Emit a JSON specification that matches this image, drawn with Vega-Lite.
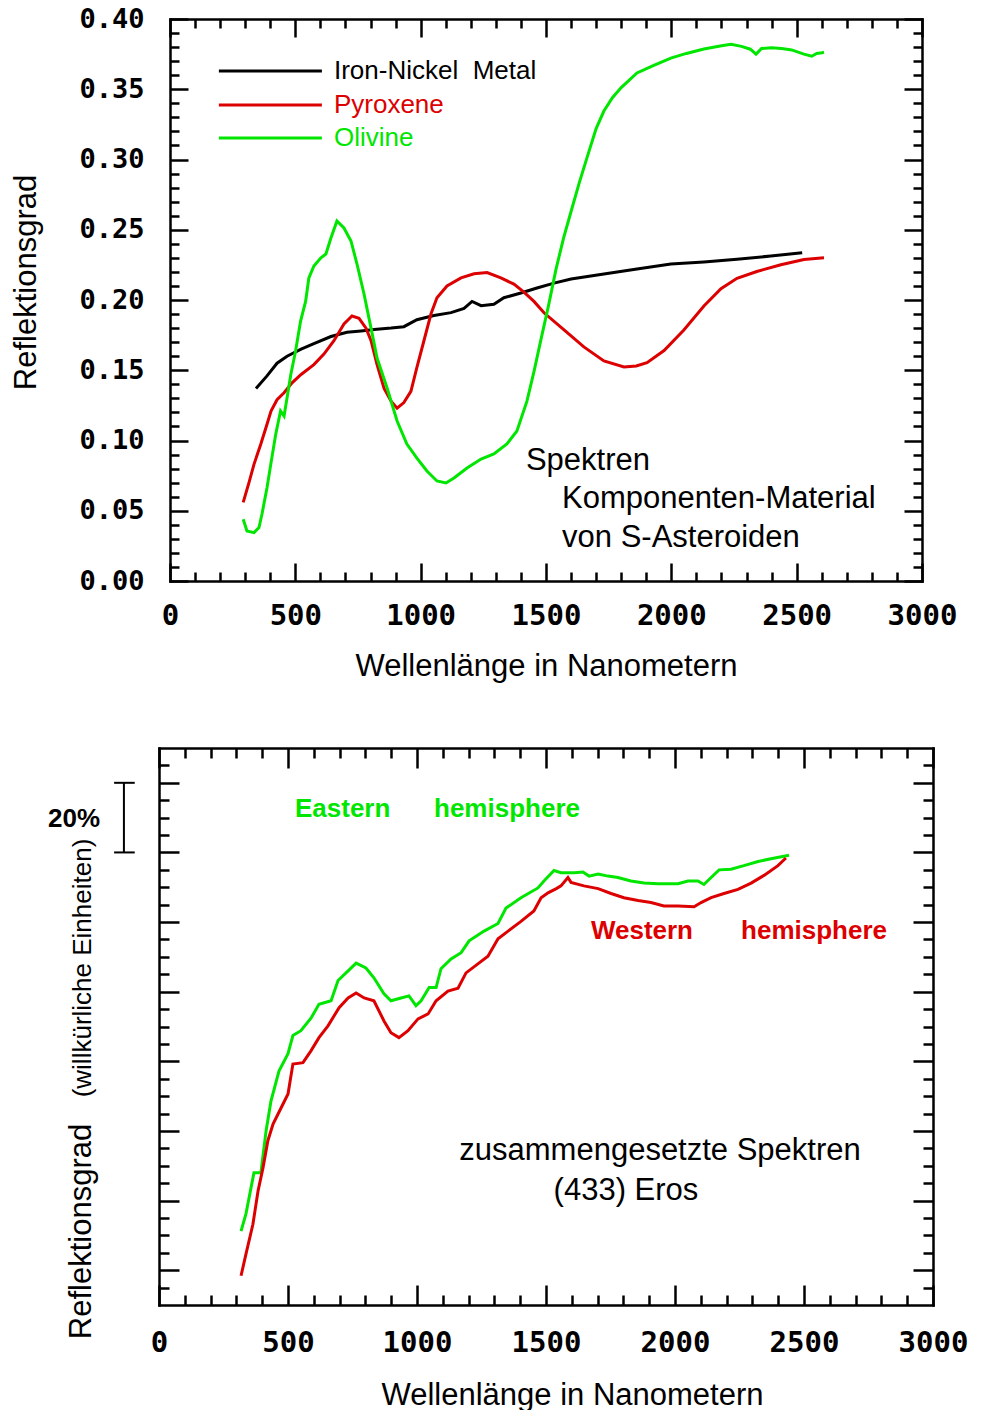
{
  "$schema": "https://vega.github.io/schema/vega-lite/v6.json",
  "padding": {"left": 10, "top": 5, "right": 0, "bottom": 0},
  "background": "white",
  "bounds": "flush",
  "center": true,
  "spacing": 167,
  "resolve": {"scale": {"x": "independent", "y": "independent", "color": "independent"}},
  "config": {
    "view": {"stroke": null},
    "axis": {
      "grid": false, "tickColor": "black", "tickWidth": 2.5, "domainColor": "black", "domainWidth": 2.5,
      "domainCap": "square", "labelColor": "black", "labelFont": "DejaVu Sans Mono", "labelFontWeight": "bold",
      "labelFontSize": 29, "titleFont": "Liberation Sans", "titleFontWeight": "normal", "titleFontSize": 31,
      "titleColor": "black", "labelFlush": false, "labelOverlap": false
    },
    "text": {"font": "Liberation Sans", "color": "black"}
  },
  "datasets": {
    "top": [
      {"s": "Iron-Nickel Metal", "nm": 343, "r": 0.137}, {"s": "Iron-Nickel Metal", "nm": 387, "r": 0.146},
      {"s": "Iron-Nickel Metal", "nm": 427, "r": 0.155}, {"s": "Iron-Nickel Metal", "nm": 467, "r": 0.160},
      {"s": "Iron-Nickel Metal", "nm": 523, "r": 0.165}, {"s": "Iron-Nickel Metal", "nm": 574, "r": 0.169},
      {"s": "Iron-Nickel Metal", "nm": 642, "r": 0.174}, {"s": "Iron-Nickel Metal", "nm": 706, "r": 0.177},
      {"s": "Iron-Nickel Metal", "nm": 762, "r": 0.178}, {"s": "Iron-Nickel Metal", "nm": 814, "r": 0.179},
      {"s": "Iron-Nickel Metal", "nm": 882, "r": 0.180}, {"s": "Iron-Nickel Metal", "nm": 933, "r": 0.181},
      {"s": "Iron-Nickel Metal", "nm": 985, "r": 0.186}, {"s": "Iron-Nickel Metal", "nm": 1053, "r": 0.189},
      {"s": "Iron-Nickel Metal", "nm": 1121, "r": 0.191}, {"s": "Iron-Nickel Metal", "nm": 1173, "r": 0.194},
      {"s": "Iron-Nickel Metal", "nm": 1205, "r": 0.199}, {"s": "Iron-Nickel Metal", "nm": 1241, "r": 0.196},
      {"s": "Iron-Nickel Metal", "nm": 1292, "r": 0.197}, {"s": "Iron-Nickel Metal", "nm": 1332, "r": 0.2016},
      {"s": "Iron-Nickel Metal", "nm": 1400, "r": 0.205}, {"s": "Iron-Nickel Metal", "nm": 1464, "r": 0.2085},
      {"s": "Iron-Nickel Metal", "nm": 1532, "r": 0.212}, {"s": "Iron-Nickel Metal", "nm": 1600, "r": 0.2149},
      {"s": "Iron-Nickel Metal", "nm": 1731, "r": 0.2185}, {"s": "Iron-Nickel Metal", "nm": 1863, "r": 0.222},
      {"s": "Iron-Nickel Metal", "nm": 1998, "r": 0.2256}, {"s": "Iron-Nickel Metal", "nm": 2130, "r": 0.2271},
      {"s": "Iron-Nickel Metal", "nm": 2262, "r": 0.229}, {"s": "Iron-Nickel Metal", "nm": 2397, "r": 0.2313},
      {"s": "Iron-Nickel Metal", "nm": 2522, "r": 0.2337},

      {"s": "Pyroxene", "nm": 292, "r": 0.056}, {"s": "Pyroxene", "nm": 315, "r": 0.07},
      {"s": "Pyroxene", "nm": 335, "r": 0.083}, {"s": "Pyroxene", "nm": 362, "r": 0.0973},
      {"s": "Pyroxene", "nm": 387, "r": 0.1116}, {"s": "Pyroxene", "nm": 403, "r": 0.121},
      {"s": "Pyroxene", "nm": 427, "r": 0.129}, {"s": "Pyroxene", "nm": 455, "r": 0.134},
      {"s": "Pyroxene", "nm": 487, "r": 0.141}, {"s": "Pyroxene", "nm": 523, "r": 0.147},
      {"s": "Pyroxene", "nm": 574, "r": 0.154}, {"s": "Pyroxene", "nm": 614, "r": 0.1615},
      {"s": "Pyroxene", "nm": 654, "r": 0.171}, {"s": "Pyroxene", "nm": 694, "r": 0.183},
      {"s": "Pyroxene", "nm": 726, "r": 0.1886}, {"s": "Pyroxene", "nm": 754, "r": 0.187},
      {"s": "Pyroxene", "nm": 782, "r": 0.180}, {"s": "Pyroxene", "nm": 802, "r": 0.171},
      {"s": "Pyroxene", "nm": 826, "r": 0.154}, {"s": "Pyroxene", "nm": 854, "r": 0.137},
      {"s": "Pyroxene", "nm": 882, "r": 0.128}, {"s": "Pyroxene", "nm": 906, "r": 0.123},
      {"s": "Pyroxene", "nm": 933, "r": 0.127}, {"s": "Pyroxene", "nm": 961, "r": 0.135},
      {"s": "Pyroxene", "nm": 985, "r": 0.152}, {"s": "Pyroxene", "nm": 1013, "r": 0.171},
      {"s": "Pyroxene", "nm": 1041, "r": 0.190}, {"s": "Pyroxene", "nm": 1065, "r": 0.2016},
      {"s": "Pyroxene", "nm": 1105, "r": 0.21}, {"s": "Pyroxene", "nm": 1161, "r": 0.2157},
      {"s": "Pyroxene", "nm": 1213, "r": 0.2187}, {"s": "Pyroxene", "nm": 1265, "r": 0.2195},
      {"s": "Pyroxene", "nm": 1320, "r": 0.2157}, {"s": "Pyroxene", "nm": 1372, "r": 0.2113},
      {"s": "Pyroxene", "nm": 1412, "r": 0.2056}, {"s": "Pyroxene", "nm": 1452, "r": 0.199},
      {"s": "Pyroxene", "nm": 1492, "r": 0.1909}, {"s": "Pyroxene", "nm": 1572, "r": 0.1787},
      {"s": "Pyroxene", "nm": 1651, "r": 0.1666}, {"s": "Pyroxene", "nm": 1731, "r": 0.1566},
      {"s": "Pyroxene", "nm": 1811, "r": 0.1523}, {"s": "Pyroxene", "nm": 1860, "r": 0.153},
      {"s": "Pyroxene", "nm": 1903, "r": 0.1554}, {"s": "Pyroxene", "nm": 1971, "r": 0.164},
      {"s": "Pyroxene", "nm": 2050, "r": 0.1787}, {"s": "Pyroxene", "nm": 2130, "r": 0.1957},
      {"s": "Pyroxene", "nm": 2198, "r": 0.208}, {"s": "Pyroxene", "nm": 2262, "r": 0.2154},
      {"s": "Pyroxene", "nm": 2341, "r": 0.2203}, {"s": "Pyroxene", "nm": 2437, "r": 0.2251},
      {"s": "Pyroxene", "nm": 2529, "r": 0.2288}, {"s": "Pyroxene", "nm": 2609, "r": 0.230},

      {"s": "Olivine", "nm": 292, "r": 0.0439}, {"s": "Olivine", "nm": 307, "r": 0.0356},
      {"s": "Olivine", "nm": 335, "r": 0.0344}, {"s": "Olivine", "nm": 355, "r": 0.038},
      {"s": "Olivine", "nm": 367, "r": 0.0477}, {"s": "Olivine", "nm": 387, "r": 0.0664},
      {"s": "Olivine", "nm": 402, "r": 0.083}, {"s": "Olivine", "nm": 422, "r": 0.1046},
      {"s": "Olivine", "nm": 441, "r": 0.121}, {"s": "Olivine", "nm": 455, "r": 0.1174},
      {"s": "Olivine", "nm": 467, "r": 0.1305}, {"s": "Olivine", "nm": 482, "r": 0.147},
      {"s": "Olivine", "nm": 501, "r": 0.1637}, {"s": "Olivine", "nm": 521, "r": 0.185},
      {"s": "Olivine", "nm": 541, "r": 0.199}, {"s": "Olivine", "nm": 554, "r": 0.2157},
      {"s": "Olivine", "nm": 574, "r": 0.2242}, {"s": "Olivine", "nm": 602, "r": 0.23},
      {"s": "Olivine", "nm": 622, "r": 0.2327}, {"s": "Olivine", "nm": 642, "r": 0.2441},
      {"s": "Olivine", "nm": 666, "r": 0.2562}, {"s": "Olivine", "nm": 694, "r": 0.2513},
      {"s": "Olivine", "nm": 722, "r": 0.242}, {"s": "Olivine", "nm": 746, "r": 0.2256},
      {"s": "Olivine", "nm": 774, "r": 0.2043}, {"s": "Olivine", "nm": 802, "r": 0.18},
      {"s": "Olivine", "nm": 826, "r": 0.1587}, {"s": "Olivine", "nm": 866, "r": 0.1374},
      {"s": "Olivine", "nm": 906, "r": 0.1139}, {"s": "Olivine", "nm": 945, "r": 0.0975},
      {"s": "Olivine", "nm": 985, "r": 0.0875}, {"s": "Olivine", "nm": 1025, "r": 0.0783},
      {"s": "Olivine", "nm": 1065, "r": 0.0712}, {"s": "Olivine", "nm": 1101, "r": 0.0698},
      {"s": "Olivine", "nm": 1133, "r": 0.0733}, {"s": "Olivine", "nm": 1185, "r": 0.0804},
      {"s": "Olivine", "nm": 1241, "r": 0.0868}, {"s": "Olivine", "nm": 1292, "r": 0.0904},
      {"s": "Olivine", "nm": 1344, "r": 0.0975}, {"s": "Olivine", "nm": 1384, "r": 0.1068},
      {"s": "Olivine", "nm": 1424, "r": 0.128}, {"s": "Olivine", "nm": 1452, "r": 0.149},
      {"s": "Olivine", "nm": 1480, "r": 0.172}, {"s": "Olivine", "nm": 1510, "r": 0.196},
      {"s": "Olivine", "nm": 1540, "r": 0.222}, {"s": "Olivine", "nm": 1570, "r": 0.244},
      {"s": "Olivine", "nm": 1600, "r": 0.263}, {"s": "Olivine", "nm": 1632, "r": 0.283},
      {"s": "Olivine", "nm": 1663, "r": 0.301}, {"s": "Olivine", "nm": 1700, "r": 0.322},
      {"s": "Olivine", "nm": 1731, "r": 0.3345}, {"s": "Olivine", "nm": 1765, "r": 0.344},
      {"s": "Olivine", "nm": 1799, "r": 0.351}, {"s": "Olivine", "nm": 1863, "r": 0.3616},
      {"s": "Olivine", "nm": 1930, "r": 0.367}, {"s": "Olivine", "nm": 1998, "r": 0.3722},
      {"s": "Olivine", "nm": 2060, "r": 0.3755}, {"s": "Olivine", "nm": 2130, "r": 0.3786},
      {"s": "Olivine", "nm": 2200, "r": 0.381}, {"s": "Olivine", "nm": 2238, "r": 0.382},
      {"s": "Olivine", "nm": 2280, "r": 0.3805}, {"s": "Olivine", "nm": 2315, "r": 0.3785},
      {"s": "Olivine", "nm": 2338, "r": 0.375}, {"s": "Olivine", "nm": 2360, "r": 0.379},
      {"s": "Olivine", "nm": 2400, "r": 0.3795}, {"s": "Olivine", "nm": 2440, "r": 0.379},
      {"s": "Olivine", "nm": 2480, "r": 0.378}, {"s": "Olivine", "nm": 2529, "r": 0.375},
      {"s": "Olivine", "nm": 2560, "r": 0.3735}, {"s": "Olivine", "nm": 2580, "r": 0.3755},
      {"s": "Olivine", "nm": 2601, "r": 0.376}, {"s": "Olivine", "nm": 2609, "r": 0.3763}
    ],
    "bot": [
      {"s": "Eastern hemisphere", "nm": 318, "u": 0.56}, {"s": "Eastern hemisphere", "nm": 337, "u": 0.81},
      {"s": "Eastern hemisphere", "nm": 368, "u": 1.40}, {"s": "Eastern hemisphere", "nm": 395, "u": 1.40},
      {"s": "Eastern hemisphere", "nm": 415, "u": 2.00}, {"s": "Eastern hemisphere", "nm": 434, "u": 2.43},
      {"s": "Eastern hemisphere", "nm": 465, "u": 2.86}, {"s": "Eastern hemisphere", "nm": 500, "u": 3.11},
      {"s": "Eastern hemisphere", "nm": 519, "u": 3.37}, {"s": "Eastern hemisphere", "nm": 550, "u": 3.44},
      {"s": "Eastern hemisphere", "nm": 589, "u": 3.62}, {"s": "Eastern hemisphere", "nm": 620, "u": 3.82},
      {"s": "Eastern hemisphere", "nm": 667, "u": 3.87}, {"s": "Eastern hemisphere", "nm": 694, "u": 4.16},
      {"s": "Eastern hemisphere", "nm": 733, "u": 4.30}, {"s": "Eastern hemisphere", "nm": 764, "u": 4.41},
      {"s": "Eastern hemisphere", "nm": 802, "u": 4.34}, {"s": "Eastern hemisphere", "nm": 833, "u": 4.20},
      {"s": "Eastern hemisphere", "nm": 872, "u": 3.97}, {"s": "Eastern hemisphere", "nm": 899, "u": 3.87},
      {"s": "Eastern hemisphere", "nm": 938, "u": 3.91}, {"s": "Eastern hemisphere", "nm": 969, "u": 3.94},
      {"s": "Eastern hemisphere", "nm": 996, "u": 3.80}, {"s": "Eastern hemisphere", "nm": 1016, "u": 3.87},
      {"s": "Eastern hemisphere", "nm": 1047, "u": 4.06}, {"s": "Eastern hemisphere", "nm": 1074, "u": 4.06},
      {"s": "Eastern hemisphere", "nm": 1093, "u": 4.33}, {"s": "Eastern hemisphere", "nm": 1132, "u": 4.47},
      {"s": "Eastern hemisphere", "nm": 1171, "u": 4.56}, {"s": "Eastern hemisphere", "nm": 1202, "u": 4.73},
      {"s": "Eastern hemisphere", "nm": 1260, "u": 4.87}, {"s": "Eastern hemisphere", "nm": 1314, "u": 4.98},
      {"s": "Eastern hemisphere", "nm": 1345, "u": 5.20}, {"s": "Eastern hemisphere", "nm": 1403, "u": 5.35},
      {"s": "Eastern hemisphere", "nm": 1469, "u": 5.49}, {"s": "Eastern hemisphere", "nm": 1492, "u": 5.59},
      {"s": "Eastern hemisphere", "nm": 1531, "u": 5.74}, {"s": "Eastern hemisphere", "nm": 1558, "u": 5.71},
      {"s": "Eastern hemisphere", "nm": 1609, "u": 5.71}, {"s": "Eastern hemisphere", "nm": 1643, "u": 5.72},
      {"s": "Eastern hemisphere", "nm": 1667, "u": 5.66}, {"s": "Eastern hemisphere", "nm": 1702, "u": 5.69},
      {"s": "Eastern hemisphere", "nm": 1740, "u": 5.66}, {"s": "Eastern hemisphere", "nm": 1779, "u": 5.64},
      {"s": "Eastern hemisphere", "nm": 1829, "u": 5.59}, {"s": "Eastern hemisphere", "nm": 1880, "u": 5.56},
      {"s": "Eastern hemisphere", "nm": 1934, "u": 5.55}, {"s": "Eastern hemisphere", "nm": 2012, "u": 5.55},
      {"s": "Eastern hemisphere", "nm": 2050, "u": 5.59}, {"s": "Eastern hemisphere", "nm": 2089, "u": 5.59},
      {"s": "Eastern hemisphere", "nm": 2112, "u": 5.54}, {"s": "Eastern hemisphere", "nm": 2140, "u": 5.64},
      {"s": "Eastern hemisphere", "nm": 2171, "u": 5.75}, {"s": "Eastern hemisphere", "nm": 2217, "u": 5.76},
      {"s": "Eastern hemisphere", "nm": 2267, "u": 5.81}, {"s": "Eastern hemisphere", "nm": 2322, "u": 5.87},
      {"s": "Eastern hemisphere", "nm": 2372, "u": 5.91}, {"s": "Eastern hemisphere", "nm": 2442, "u": 5.96},

      {"s": "Western hemisphere", "nm": 318, "u": -0.08}, {"s": "Western hemisphere", "nm": 337, "u": 0.23},
      {"s": "Western hemisphere", "nm": 364, "u": 0.66}, {"s": "Western hemisphere", "nm": 384, "u": 1.14},
      {"s": "Western hemisphere", "nm": 403, "u": 1.47}, {"s": "Western hemisphere", "nm": 422, "u": 1.86},
      {"s": "Western hemisphere", "nm": 442, "u": 2.10}, {"s": "Western hemisphere", "nm": 473, "u": 2.33},
      {"s": "Western hemisphere", "nm": 500, "u": 2.53}, {"s": "Western hemisphere", "nm": 519, "u": 2.96},
      {"s": "Western hemisphere", "nm": 558, "u": 2.98}, {"s": "Western hemisphere", "nm": 589, "u": 3.15},
      {"s": "Western hemisphere", "nm": 620, "u": 3.34}, {"s": "Western hemisphere", "nm": 655, "u": 3.51},
      {"s": "Western hemisphere", "nm": 698, "u": 3.77}, {"s": "Western hemisphere", "nm": 733, "u": 3.91},
      {"s": "Western hemisphere", "nm": 764, "u": 3.98}, {"s": "Western hemisphere", "nm": 795, "u": 3.91},
      {"s": "Western hemisphere", "nm": 833, "u": 3.87}, {"s": "Western hemisphere", "nm": 872, "u": 3.58},
      {"s": "Western hemisphere", "nm": 899, "u": 3.41}, {"s": "Western hemisphere", "nm": 930, "u": 3.34},
      {"s": "Western hemisphere", "nm": 965, "u": 3.44}, {"s": "Western hemisphere", "nm": 1004, "u": 3.61},
      {"s": "Western hemisphere", "nm": 1043, "u": 3.68}, {"s": "Western hemisphere", "nm": 1074, "u": 3.87},
      {"s": "Western hemisphere", "nm": 1120, "u": 4.01}, {"s": "Western hemisphere", "nm": 1159, "u": 4.05},
      {"s": "Western hemisphere", "nm": 1190, "u": 4.27}, {"s": "Western hemisphere", "nm": 1236, "u": 4.40},
      {"s": "Western hemisphere", "nm": 1275, "u": 4.51}, {"s": "Western hemisphere", "nm": 1314, "u": 4.76},
      {"s": "Western hemisphere", "nm": 1353, "u": 4.87}, {"s": "Western hemisphere", "nm": 1403, "u": 5.01},
      {"s": "Western hemisphere", "nm": 1453, "u": 5.16}, {"s": "Western hemisphere", "nm": 1481, "u": 5.35},
      {"s": "Western hemisphere", "nm": 1508, "u": 5.42}, {"s": "Western hemisphere", "nm": 1540, "u": 5.48},
      {"s": "Western hemisphere", "nm": 1558, "u": 5.52}, {"s": "Western hemisphere", "nm": 1585, "u": 5.64},
      {"s": "Western hemisphere", "nm": 1597, "u": 5.57}, {"s": "Western hemisphere", "nm": 1647, "u": 5.52},
      {"s": "Western hemisphere", "nm": 1702, "u": 5.48}, {"s": "Western hemisphere", "nm": 1752, "u": 5.41},
      {"s": "Western hemisphere", "nm": 1802, "u": 5.35}, {"s": "Western hemisphere", "nm": 1857, "u": 5.31},
      {"s": "Western hemisphere", "nm": 1907, "u": 5.28}, {"s": "Western hemisphere", "nm": 1957, "u": 5.23},
      {"s": "Western hemisphere", "nm": 2012, "u": 5.23}, {"s": "Western hemisphere", "nm": 2074, "u": 5.22},
      {"s": "Western hemisphere", "nm": 2101, "u": 5.28}, {"s": "Western hemisphere", "nm": 2140, "u": 5.35},
      {"s": "Western hemisphere", "nm": 2190, "u": 5.41}, {"s": "Western hemisphere", "nm": 2244, "u": 5.47},
      {"s": "Western hemisphere", "nm": 2295, "u": 5.56}, {"s": "Western hemisphere", "nm": 2345, "u": 5.67},
      {"s": "Western hemisphere", "nm": 2399, "u": 5.81}, {"s": "Western hemisphere", "nm": 2430, "u": 5.92}
    ]
  },
  "vconcat": [
    {
      "width": 752,
      "height": 562,
      "resolve": {"axis": {"x": "independent", "y": "independent"}},
      "layer": [
        {
          "data": {"name": "top"},
          "mark": {"type": "line", "strokeWidth": 3},
          "encoding": {
            "x": {"field": "nm", "type": "quantitative", "scale": {"domain": [0, 3000], "nice": false, "zero": false},
              "axis": {"orient": "bottom", "values": [0, 500, 1000, 1500, 2000, 2500, 3000], "format": "d", "tickSize": -18, "labelPadding": 38,
                "title": "Wellenlänge in Nanometern", "titlePadding": 21}},
            "y": {"field": "r", "type": "quantitative", "scale": {"domain": [0, 0.4], "nice": false, "zero": false},
              "axis": {"orient": "left", "values": [0, 0.05, 0.1, 0.15, 0.2, 0.25, 0.3, 0.35, 0.4], "format": ".2f", "tickSize": -18,
                "labelFontSize": 27, "labelPadding": 44, "title": "Reflektionsgrad", "titlePadding": 36, "titleY": 263}},
            "color": {"field": "s", "type": "nominal", "legend": null,
              "scale": {"domain": ["Iron-Nickel Metal", "Pyroxene", "Olivine"], "range": ["#000000", "#dd0000", "#00e600"]}}
          }
        },
        {
          "data": {"values": [{}]},
          "mark": {"type": "text", "align": "left", "baseline": "middle", "fontSize": 31},
          "encoding": {
            "text": {"value": "Spektren"},
            "x": {"datum": 1420, "type": "quantitative",
              "axis": {"orient": "bottom", "values": [100, 200, 300, 400, 600, 700, 800, 900, 1100, 1200, 1300, 1400, 1600, 1700, 1800, 1900, 2100, 2200, 2300, 2400, 2600, 2700, 2800, 2900],
                "tickSize": -9, "labels": false, "domain": false, "title": null}},
            "y": {"datum": 0.0854, "type": "quantitative",
              "axis": {"orient": "left", "values": [0.01, 0.02, 0.03, 0.04, 0.06, 0.07, 0.08, 0.09, 0.11, 0.12, 0.13, 0.14, 0.16, 0.17, 0.18, 0.19, 0.21, 0.22, 0.23, 0.24, 0.26, 0.27, 0.28, 0.29, 0.31, 0.32, 0.33, 0.34, 0.36, 0.37, 0.38, 0.39],
                "tickSize": -9, "labels": false, "domain": false, "title": null}}
          }
        },
        {
          "data": {"values": [{}]},
          "mark": {"type": "text", "align": "left", "baseline": "middle", "fontSize": 31},
          "encoding": {
            "text": {"value": "Komponenten-Material"},
            "x": {"datum": 1564, "type": "quantitative",
              "axis": {"orient": "top", "values": [0, 500, 1000, 1500, 2000, 2500, 3000], "tickSize": -18, "labels": false, "title": null}},
            "y": {"datum": 0.0584, "type": "quantitative",
              "axis": {"orient": "right", "values": [0, 0.05, 0.1, 0.15, 0.2, 0.25, 0.3, 0.35, 0.4], "tickSize": -18, "labels": false, "title": null}}
          }
        },
        {
          "data": {"values": [{}]},
          "mark": {"type": "text", "align": "left", "baseline": "middle", "fontSize": 31},
          "encoding": {
            "text": {"value": "von S-Asteroiden"},
            "x": {"datum": 1564, "type": "quantitative",
              "axis": {"orient": "top", "values": [100, 200, 300, 400, 600, 700, 800, 900, 1100, 1200, 1300, 1400, 1600, 1700, 1800, 1900, 2100, 2200, 2300, 2400, 2600, 2700, 2800, 2900],
                "tickSize": -9, "labels": false, "domain": false, "title": null}},
            "y": {"datum": 0.0306, "type": "quantitative",
              "axis": {"orient": "right", "values": [0.01, 0.02, 0.03, 0.04, 0.06, 0.07, 0.08, 0.09, 0.11, 0.12, 0.13, 0.14, 0.16, 0.17, 0.18, 0.19, 0.21, 0.22, 0.23, 0.24, 0.26, 0.27, 0.28, 0.29, 0.31, 0.32, 0.33, 0.34, 0.36, 0.37, 0.38, 0.39],
                "tickSize": -9, "labels": false, "domain": false, "title": null}}
          }
        },
        {
          "data": {"values": [{}]},
          "mark": {"type": "rule", "strokeWidth": 3, "color": "#000000"},
          "encoding": {"x": {"datum": 195, "type": "quantitative", "axis": null}, "x2": {"datum": 606}, "y": {"datum": 0.363, "type": "quantitative", "axis": null}}
        },
        {
          "data": {"values": [{}]},
          "mark": {"type": "rule", "strokeWidth": 3, "color": "#dd0000"},
          "encoding": {"x": {"datum": 195, "type": "quantitative", "axis": null}, "x2": {"datum": 606}, "y": {"datum": 0.3388, "type": "quantitative", "axis": null}}
        },
        {
          "data": {"values": [{}]},
          "mark": {"type": "rule", "strokeWidth": 3, "color": "#00e600"},
          "encoding": {"x": {"datum": 195, "type": "quantitative", "axis": null}, "x2": {"datum": 606}, "y": {"datum": 0.3153, "type": "quantitative", "axis": null}}
        },
        {
          "data": {"values": [{}]},
          "mark": {"type": "text", "align": "left", "baseline": "middle", "fontSize": 26, "color": "#000000"},
          "encoding": {"text": {"value": "Iron-Nickel\u00a0\u00a0Metal"}, "x": {"datum": 654, "type": "quantitative", "axis": null}, "y": {"datum": 0.363, "type": "quantitative", "axis": null}}
        },
        {
          "data": {"values": [{}]},
          "mark": {"type": "text", "align": "left", "baseline": "middle", "fontSize": 26, "color": "#dd0000"},
          "encoding": {"text": {"value": "Pyroxene"}, "x": {"datum": 654, "type": "quantitative", "axis": null}, "y": {"datum": 0.3388, "type": "quantitative", "axis": null}}
        },
        {
          "data": {"values": [{}]},
          "mark": {"type": "text", "align": "left", "baseline": "middle", "fontSize": 26, "color": "#00e600"},
          "encoding": {"text": {"value": "Olivine"}, "x": {"datum": 654, "type": "quantitative", "axis": null}, "y": {"datum": 0.3153, "type": "quantitative", "axis": null}}
        }
      ]
    },
    {
      "width": 774,
      "height": 557,
      "resolve": {"axis": {"x": "independent", "y": "independent"}},
      "layer": [
        {
          "data": {"name": "bot"},
          "mark": {"type": "line", "strokeWidth": 3},
          "encoding": {
            "x": {"field": "nm", "type": "quantitative", "scale": {"domain": [0, 3000], "nice": false, "zero": false},
              "axis": {"orient": "bottom", "values": [0, 500, 1000, 1500, 2000, 2500, 3000], "format": "d", "tickSize": -20, "labelPadding": 43,
                "title": "Wellenlänge in Nanometern", "titlePadding": 23, "titleX": 413}},
            "y": {"field": "u", "type": "quantitative", "scale": {"domain": [-0.5, 7.5], "nice": false, "zero": false},
              "axis": {"orient": "left", "values": [0, 1, 2, 3, 4, 5, 6, 7], "tickSize": -20, "labels": false,
                "title": "Reflektionsgrad", "titlePadding": 60, "titleY": 483}},
            "color": {"field": "s", "type": "nominal", "legend": null,
              "scale": {"domain": ["Eastern hemisphere", "Western hemisphere"], "range": ["#00e600", "#dd0000"]}}
          }
        },
        {
          "data": {"values": [{}]},
          "mark": {"type": "text", "align": "center", "baseline": "middle", "fontSize": 31},
          "encoding": {
            "text": {"value": "zusammengesetzte Spektren"},
            "x": {"datum": 1942, "type": "quantitative",
              "axis": {"orient": "bottom", "values": [100, 200, 300, 400, 600, 700, 800, 900, 1100, 1200, 1300, 1400, 1600, 1700, 1800, 1900, 2100, 2200, 2300, 2400, 2600, 2700, 2800, 2900],
                "tickSize": -10, "labels": false, "domain": false, "title": null}},
            "y": {"datum": 1.71, "type": "quantitative",
              "axis": {"orient": "left", "values": [-0.25, 0.25, 0.5, 0.75, 1.25, 1.5, 1.75, 2.25, 2.5, 2.75, 3.25, 3.5, 3.75, 4.25, 4.5, 4.75, 5.25, 5.5, 5.75, 6.25, 6.5, 6.75, 7.25],
                "tickSize": -10, "labels": false, "domain": false, "title": null}}
          }
        },
        {
          "data": {"values": [{}]},
          "mark": {"type": "text", "align": "center", "baseline": "middle", "fontSize": 31},
          "encoding": {
            "text": {"value": "(433) Eros"},
            "x": {"datum": 1810, "type": "quantitative",
              "axis": {"orient": "top", "values": [0, 500, 1000, 1500, 2000, 2500, 3000], "tickSize": -20, "labels": false, "title": null}},
            "y": {"datum": 1.14, "type": "quantitative",
              "axis": {"orient": "right", "values": [0, 1, 2, 3, 4, 5, 6, 7], "tickSize": -20, "labels": false, "title": null}}
          }
        },
        {
          "data": {"values": [{}]},
          "mark": {"type": "text", "align": "left", "baseline": "middle", "fontSize": 26, "fontWeight": "bold", "color": "#00e600"},
          "encoding": {
            "text": {"value": "Eastern"},
            "x": {"datum": 527, "type": "quantitative",
              "axis": {"orient": "top", "values": [100, 200, 300, 400, 600, 700, 800, 900, 1100, 1200, 1300, 1400, 1600, 1700, 1800, 1900, 2100, 2200, 2300, 2400, 2600, 2700, 2800, 2900],
                "tickSize": -10, "labels": false, "domain": false, "title": null}},
            "y": {"datum": 6.63, "type": "quantitative",
              "axis": {"orient": "right", "values": [-0.25, 0.25, 0.5, 0.75, 1.25, 1.5, 1.75, 2.25, 2.5, 2.75, 3.25, 3.5, 3.75, 4.25, 4.5, 4.75, 5.25, 5.5, 5.75, 6.25, 6.5, 6.75, 7.25],
                "tickSize": -10, "labels": false, "domain": false, "title": null}}
          }
        },
        {
          "data": {"values": [{}]},
          "mark": {"type": "text", "align": "left", "baseline": "middle", "fontSize": 26, "fontWeight": "bold", "color": "#00e600"},
          "encoding": {"text": {"value": "hemisphere"}, "x": {"datum": 1066, "type": "quantitative", "axis": null}, "y": {"datum": 6.63, "type": "quantitative", "axis": null}}
        },
        {
          "data": {"values": [{}]},
          "mark": {"type": "text", "align": "left", "baseline": "middle", "fontSize": 26, "fontWeight": "bold", "color": "#dd0000"},
          "encoding": {"text": {"value": "Western"}, "x": {"datum": 1674, "type": "quantitative", "axis": null}, "y": {"datum": 4.87, "type": "quantitative", "axis": null}}
        },
        {
          "data": {"values": [{}]},
          "mark": {"type": "text", "align": "left", "baseline": "middle", "fontSize": 26, "fontWeight": "bold", "color": "#dd0000"},
          "encoding": {"text": {"value": "hemisphere"}, "x": {"datum": 2256, "type": "quantitative", "axis": null}, "y": {"datum": 4.87, "type": "quantitative", "axis": null}}
        },
        {
          "data": {"values": [{}]},
          "mark": {"type": "text", "align": "center", "baseline": "middle", "fontSize": 26, "fontWeight": "bold"},
          "encoding": {"text": {"value": "20%"}, "x": {"datum": -329, "type": "quantitative", "axis": null}, "y": {"datum": 6.48, "type": "quantitative", "axis": null}}
        },
        {
          "data": {"values": [{}]},
          "mark": {"type": "rule", "strokeWidth": 2, "color": "black"},
          "encoding": {"x": {"datum": -136, "type": "quantitative", "axis": null}, "y": {"datum": 6, "type": "quantitative", "axis": null}, "y2": {"datum": 7}}
        },
        {
          "data": {"values": [{}]},
          "mark": {"type": "rule", "strokeWidth": 2, "color": "black"},
          "encoding": {"x": {"datum": -174, "type": "quantitative", "axis": null}, "x2": {"datum": -94}, "y": {"datum": 6, "type": "quantitative", "axis": null}}
        },
        {
          "data": {"values": [{}]},
          "mark": {"type": "rule", "strokeWidth": 2, "color": "black"},
          "encoding": {"x": {"datum": -174, "type": "quantitative", "axis": null}, "x2": {"datum": -94}, "y": {"datum": 7, "type": "quantitative", "axis": null}}
        },
        {
          "data": {"values": [{}]},
          "mark": {"type": "text", "align": "center", "baseline": "middle", "fontSize": 26, "angle": 270},
          "encoding": {"text": {"value": "(willkürliche Einheiten)"}, "x": {"datum": -295, "type": "quantitative", "axis": null}, "y": {"datum": 4.34, "type": "quantitative", "axis": null}}
        }
      ]
    }
  ]
}
